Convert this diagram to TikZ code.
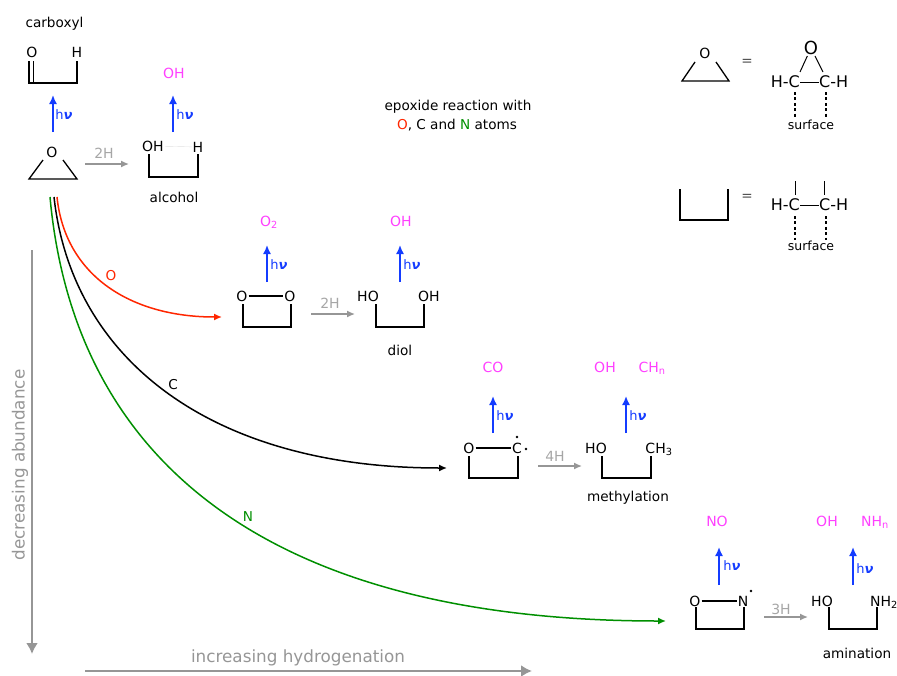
\documentclass[tikz,border=0pt]{standalone}
\usepackage{fontspec}
\setmainfont{DejaVu Sans}
\usetikzlibrary{arrows.meta}
\definecolor{hvblue}{RGB}{20,60,255}
\definecolor{fragpink}{RGB}{255,64,255}
\definecolor{axisgrey}{RGB}{150,150,150}
\definecolor{atomred}{RGB}{255,38,0}
\definecolor{atomgreen}{RGB}{0,143,0}
\newcommand{\hnu}{h{\bfseries\itshape ν}}
\tikzset{
  atom/.style={font=\fontsize{14}{15}\selectfont,inner sep=1pt,text height=10pt,text depth=0pt},
  bigatom/.style={font=\fontsize{16}{18}\selectfont,inner sep=0pt,text height=11.5pt,text depth=0pt},
  caption/.style={font=\fontsize{13.6}{15}\selectfont,inner sep=1pt},
  surfacelabel/.style={font=\fontsize{12.5}{15}\selectfont,inner sep=1pt},
  frag/.style={font=\fontsize{14}{15}\selectfont,text=fragpink,inner sep=1pt,text height=10pt,text depth=0pt},
  hvlabel/.style={font=\fontsize{13}{15}\selectfont,text=hvblue,inner sep=1pt},
  hlabel/.style={font=\fontsize{14}{15}\selectfont,text=axisgrey!85!white,inner sep=1pt},
  axislabel/.style={font=\fontsize{16.8}{18}\selectfont,text=axisgrey,inner sep=1pt},
  bond/.style={line width=1.3pt,line cap=rect},
  thinbond/.style={line width=1pt},
  surfacebond/.style={line width=1.4pt,dash pattern=on 3pt off 2.4pt},
  hvarrow/.style={-{Latex[length=9pt,width=8pt]},hvblue,line width=1.6pt},
  harrow/.style={-{Latex[length=8pt,width=7pt]},axisgrey,line width=1.4pt},
  axisarrow/.style={-{Latex[length=11pt,width=12pt]},axisgrey,line width=2.5pt},
  pathway/.style={-{Latex[length=8pt,width=7pt]},line width=1.5pt},
}
\begin{document}
\begin{tikzpicture}[x=1pt,y=-1pt]
  \useasboundingbox (0,0) rectangle (897,675);

  % carboxyl
  \node[caption] (carboxyl) at (54.5,24) {carboxyl};
  \node[atom] (carbO) at (32,52) {O};
  \node[atom] (carbH) at (77,52) {H};
  \draw[bond] (29,62) -- (29,83) -- (77,83) -- (77,62);
  \draw[bond] (33.5,62) -- (33.5,83);

  % epoxide
  \node[atom] (epoxO) at (52,152) {O};
  \draw[bond,line cap=butt,line join=miter] (43,160) -- (29,179) -- (77,179) -- (63,160);
  \coordinate (epoxUp) at (53,132);
  \coordinate (carbDown) at (53,95);
  \draw[hvarrow] (epoxUp) -- (carbDown);
  \node[hvlabel] (hvA) at (64,115) {\hnu};
  \coordinate (epoxH) at (85,164);
  \coordinate (alcH) at (129,164);
  \draw[harrow] (epoxH) -- (alcH);
  \node[hlabel] (twoHa) at (104,153) {2H};

  % alcohol
  \node[atom] (alcO) at (153,146) {OH};
  \node[atom] (alcHy) at (198,147) {H};
  \draw[black!12,thin] (alcO) -- (alcHy);
  \draw[bond] (149,155) -- (149,177) -- (198,177) -- (198,155);
  \node[caption] (alcohol) at (174,197) {alcohol};
  \node[frag] (alcFrag) at (174,73) {OH};
  \coordinate (alcUp) at (173,132);
  \coordinate (alcTop) at (173,95);
  \draw[hvarrow] (alcUp) -- (alcTop);
  \node[hvlabel] (hvB) at (185,115) {\hnu};

  % O pathway
  \node[atom] (dioxA) at (242,296) {O};
  \node[atom] (dioxB) at (290,296) {O};
  \draw[bond,line cap=butt] (dioxA) -- (dioxB);
  \draw[bond] (243,305) -- (243,327) -- (291,327) -- (291,305);
  \node[frag] (dioxFrag) at (269,221) {O\textsubscript{2}};
  \coordinate (dioxUp) at (267,282);
  \coordinate (dioxTop) at (267,245);
  \draw[hvarrow] (dioxUp) -- (dioxTop);
  \node[hvlabel] (hvC) at (279,265) {\hnu};
  \coordinate (dioxH) at (311,314);
  \coordinate (diolH) at (355,314);
  \draw[harrow] (dioxH) -- (diolH);
  \node[hlabel] (twoHb) at (330,303) {2H};

  % diol
  \node[atom] (diolA) at (368,296) {HO};
  \node[atom] (diolB) at (429,296) {OH};
  \draw[bond] (376,305) -- (376,327) -- (424,327) -- (424,305);
  \node[frag] (diolFrag) at (401,221) {OH};
  \coordinate (diolUp) at (400,282);
  \coordinate (diolTop) at (400,245);
  \draw[hvarrow] (diolUp) -- (diolTop);
  \node[hvlabel] (hvD) at (412,265) {\hnu};
  \node[caption] (diol) at (400,350) {diol};

  % C pathway
  \node[atom] (oxeO) at (469,448) {O};
  \node[atom] (oxeC) at (517,448) {C};
  \draw[bond,line cap=butt] (oxeO) -- (oxeC);
  \draw[bond] (469,457) -- (469,478) -- (518,478) -- (518,457);
  \fill (517,437) circle (1.3pt);
  \fill (526,449) circle (1.3pt);
  \node[frag] (oxeFrag) at (493,367) {CO};
  \coordinate (oxeUp) at (493,433);
  \coordinate (oxeTop) at (493,396);
  \draw[hvarrow] (oxeUp) -- (oxeTop);
  \node[hvlabel] (hvE) at (505,416) {\hnu};
  \coordinate (oxeH) at (538,466);
  \coordinate (methH) at (582,466);
  \draw[harrow] (oxeH) -- (methH);
  \node[hlabel] (fourH) at (555,456) {4H};

  % methylation
  \node[atom] (methA) at (596,448) {HO};
  \node[atom] (methB) at (659,448) {CH\textsubscript{3}};
  \draw[bond] (602,457) -- (602,478) -- (651,478) -- (651,457);
  \node[frag] (methFragA) at (605,367) {OH};
  \node[frag] (methFragB) at (652,367) {CH\textsubscript{n}};
  \coordinate (methUp) at (626,433);
  \coordinate (methTop) at (626,396);
  \draw[hvarrow] (methUp) -- (methTop);
  \node[hvlabel] (hvF) at (638,416) {\hnu};
  \node[caption] (methylation) at (628,498) {methylation};

  % N pathway
  \node[atom] (azeO) at (695,601) {O};
  \node[atom] (azeN) at (743,601) {N};
  \draw[bond,line cap=butt] (azeO) -- (azeN);
  \draw[bond] (696,608) -- (696,629) -- (744,629) -- (744,608);
  \fill (751,591) circle (1.3pt);
  \node[frag] (azeFrag) at (717,521) {NO};
  \coordinate (azeUp) at (719,585);
  \coordinate (azeTop) at (719,547);
  \draw[hvarrow] (azeUp) -- (azeTop);
  \node[hvlabel] (hvG) at (732,566) {\hnu};
  \coordinate (azeH) at (764,617);
  \coordinate (amiH) at (808,617);
  \draw[harrow] (azeH) -- (amiH);
  \node[hlabel] (threeH) at (781,609) {3H};

  % amination
  \node[atom] (amiA) at (822,601) {HO};
  \node[atom] (amiB) at (884,601) {NH\textsubscript{2}};
  \draw[bond] (829,608) -- (829,629) -- (877,629) -- (877,608);
  \node[frag] (amiFragA) at (827,521) {OH};
  \node[frag] (amiFragB) at (875,521) {NH\textsubscript{n}};
  \coordinate (amiUp) at (853,585);
  \coordinate (amiTop) at (853,547);
  \draw[hvarrow] (amiUp) -- (amiTop);
  \node[hvlabel] (hvH) at (865,569) {\hnu};
  \node[caption] (amination) at (857,653) {amination};

  % curves from the epoxide
  \coordinate (startO) at (57,197);
  \coordinate (startC) at (54,197);
  \coordinate (startN) at (50,197);
  \coordinate (endO) at (222,317);
  \coordinate (endC) at (447,468);
  \coordinate (endN) at (666,621);
  \draw[pathway,atomred] (startO) .. controls (65,275) and (130,317) .. (endO);
  \draw[pathway,black] (startC) .. controls (72,360) and (212,468) .. (endC);
  \draw[pathway,atomgreen] (startN) .. controls (75,470) and (280,621) .. (endN);
  \node[caption,text=atomred] (labelO) at (111,276) {O};
  \node[caption] (labelC) at (173,385) {C};
  \node[caption,text=atomgreen] (labelN) at (248,517) {N};

  % axes
  \coordinate (abundTop) at (32,250);
  \coordinate (abundEnd) at (32,654);
  \coordinate (hydroStart) at (85,671);
  \coordinate (hydroEnd) at (532,671);
  \draw[axisarrow] (abundTop) -- (abundEnd);
  \draw[axisarrow] (hydroStart) -- (hydroEnd);
  \node[axislabel,rotate=90] (abundance) at (20,465) {decreasing abundance};
  \node[axislabel] (hydrogenation) at (298,658) {increasing hydrogenation};

  % title
  \node[caption] (titleA) at (458,107) {epoxide reaction with};
  \node[caption] (titleB) at (457,125) {\textcolor{atomred}{O}, C and \textcolor{atomgreen}{N} atoms};

  % legend, epoxide
  \node[atom] (legO) at (705,53) {O};
  \draw[bond,line cap=butt,line join=miter] (695,62) -- (682,81) -- (729,81) -- (716,62);
  \node[caption,text=black!70] (legEqA) at (747,62) {=};
  \node[font=\fontsize{18}{20}\selectfont,inner sep=1pt] (legTop) at (811,48) {O};
  \node[bigatom,anchor=east] (legCa) at (800,82) {H-C};
  \node[bigatom,anchor=west] (legCb) at (819,82) {C-H};
  \draw[thinbond] (legCa) -- (legCb);
  \draw[thinbond] (legTop) -- (800,72);
  \draw[thinbond] (legTop) -- (823,72);
  \draw[surfacebond] (795,92) -- (795,117);
  \draw[surfacebond] (826,92) -- (826,117);
  \node[surfacelabel] (legSurfA) at (811,125) {surface};

  % legend, surface bracket
  \draw[bond] (680,190) -- (680,220) -- (728,220) -- (728,190);
  \node[caption,text=black!70] (legEqB) at (747,197) {=};
  \node[bigatom,anchor=east] (legCc) at (800,205) {H-C};
  \node[bigatom,anchor=west] (legCd) at (819,205) {C-H};
  \draw[thinbond] (legCc) -- (legCd);
  \draw[thinbond] (795,181) -- (795,195);
  \draw[thinbond] (824,181) -- (824,195);
  \draw[surfacebond] (795,216) -- (795,240);
  \draw[surfacebond] (826,216) -- (826,240);
  \node[surfacelabel] (legSurfB) at (811,246) {surface};
\end{tikzpicture}
\end{document}
